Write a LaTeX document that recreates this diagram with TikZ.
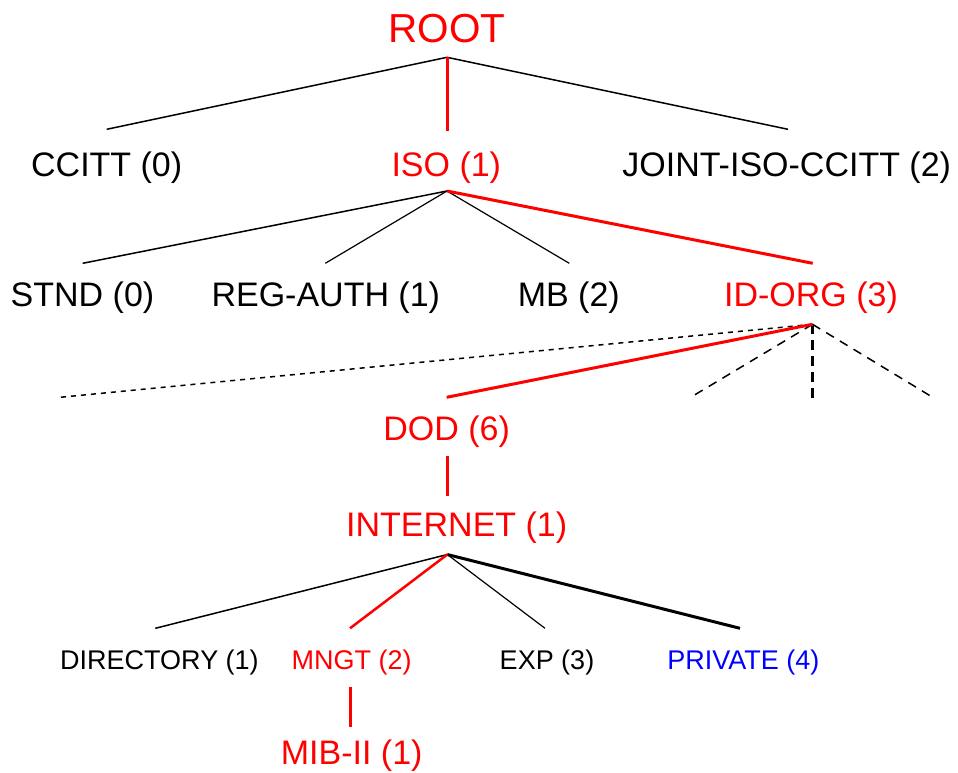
\documentclass[tikz,border=0pt]{standalone}
\usepackage{fontspec}
\setmainfont{Liberation Sans}
\definecolor{oidred}{RGB}{255,0,0}
\definecolor{oidblue}{RGB}{0,0,255}
\begin{document}
\begin{tikzpicture}[x=1pt,y=-1pt,
  lbl/.style={inner sep=0pt, anchor=base, font=\fontsize{34}{40}\selectfont},
  biglbl/.style={lbl, font=\fontsize{40.5}{48}\selectfont},
  smalllbl/.style={lbl, font=\fontsize{27}{32}\selectfont},
  branch/.style={black, line width=1.5pt},
  thinbranch/.style={black, line width=1.2pt},
  heavybranch/.style={black, line width=3pt},
  hot/.style={oidred, line width=3pt},
  hotthin/.style={oidred, line width=2.5pt},
  elided/.style={black, line width=1.5pt, dash pattern=on 5pt off 5pt},
  sibling/.style={black, line width=1.5pt, dash pattern=on 9pt off 7pt},
  stub/.style={black, line width=2.5pt, dash pattern=on 10pt off 6pt}]
\fill[white] (0,0) rectangle (958,772);
\useasboundingbox (0,0) rectangle (958,772);

% labels
\node[biglbl, text=oidred] (root) at (447,42.7) {ROOT};
\node[lbl] (ccitt) at (106.7,176) {CCITT (0)};
\node[lbl, text=oidred] (iso) at (446.3,176) {ISO (1)};
\node[lbl] (joint) at (786.7,176) {JOINT-ISO-CCITT (2)};
\node[lbl] (stnd) at (82.5,306) {STND (0)};
\node[lbl] (regauth) at (325.8,306) {REG-AUTH (1)};
\node[lbl] (mb) at (568.8,306) {MB (2)};
\node[lbl, text=oidred] (idorg) at (811,306) {ID-ORG (3)};
\node[lbl, text=oidred] (dod) at (446.7,440) {DOD (6)};
\node[lbl, text=oidred] (internet) at (456.7,536.7) {INTERNET (1)};
\node[smalllbl] (directory) at (159.5,669.3) {DIRECTORY (1)};
\node[smalllbl, text=oidred] (mngt) at (351.7,669.3) {MNGT (2)};
\node[smalllbl] (exp) at (547,669.3) {EXP (3)};
\node[smalllbl, text=oidblue] (private) at (743.3,669.3) {PRIVATE (4)};
\node[lbl, text=oidred] (mib) at (351.7,764) {MIB-II (1)};

% attachment points of the branches
\coordinate (rootJ) at (447,57.3);
\coordinate (ccittT) at (106.7,129.3);
\coordinate (isoT) at (447,130.7);
\coordinate (jointT) at (788,129.3);
\coordinate (isoJ) at (447,191);
\coordinate (stndT) at (82.7,263.3);
\coordinate (regauthT) at (325.3,263.3);
\coordinate (mbT) at (569.3,263.3);
\coordinate (idorgT) at (812.7,263.3);
\coordinate (idorgJ) at (812.5,324.3);
\coordinate (farleft) at (58,397.5);
\coordinate (dodT) at (446.7,397.3);
\coordinate (sibA) at (690,397.7);
\coordinate (sibB) at (812.5,397.7);
\coordinate (sibC) at (933.3,397.7);
\coordinate (dodB) at (447,456);
\coordinate (internetT) at (447,496);
\coordinate (internetJ) at (447.3,554.5);
\coordinate (directoryT) at (155.3,628.3);
\coordinate (mngtT) at (350,628.3);
\coordinate (expT) at (545,628.3);
\coordinate (privateT) at (740,628.3);
\coordinate (mngtB) at (350.7,686.7);
\coordinate (mibT) at (350.7,726.7);

% level 1
\draw[branch] (rootJ) -- (ccittT);
\draw[branch] (rootJ) -- (jointT);
\draw[hot] (rootJ) -- (isoT);
% level 2
\draw[branch] (isoJ) -- (stndT);
\draw[thinbranch] (isoJ) -- (regauthT);
\draw[thinbranch] (isoJ) -- (mbT);
\draw[hot] (isoJ) -- (idorgT);
% level 3
\draw[elided] (idorgJ) -- (farleft);
\draw[sibling] (idorgJ) -- (sibA);
\draw[stub] (idorgJ) -- (sibB);
\draw[sibling] (idorgJ) -- (sibC);
\draw[hot] (idorgJ) -- (dodT);
% level 4
\draw[hot] (dodB) -- (internetT);
% level 5
\draw[branch] (internetJ) -- (directoryT);
\draw[thinbranch] (internetJ) -- (expT);
\draw[heavybranch] (internetJ) -- (privateT);
\draw[hotthin] (internetJ) -- (mngtT);
% level 6
\draw[hot] (mngtB) -- (mibT);
\end{tikzpicture}
\end{document}
